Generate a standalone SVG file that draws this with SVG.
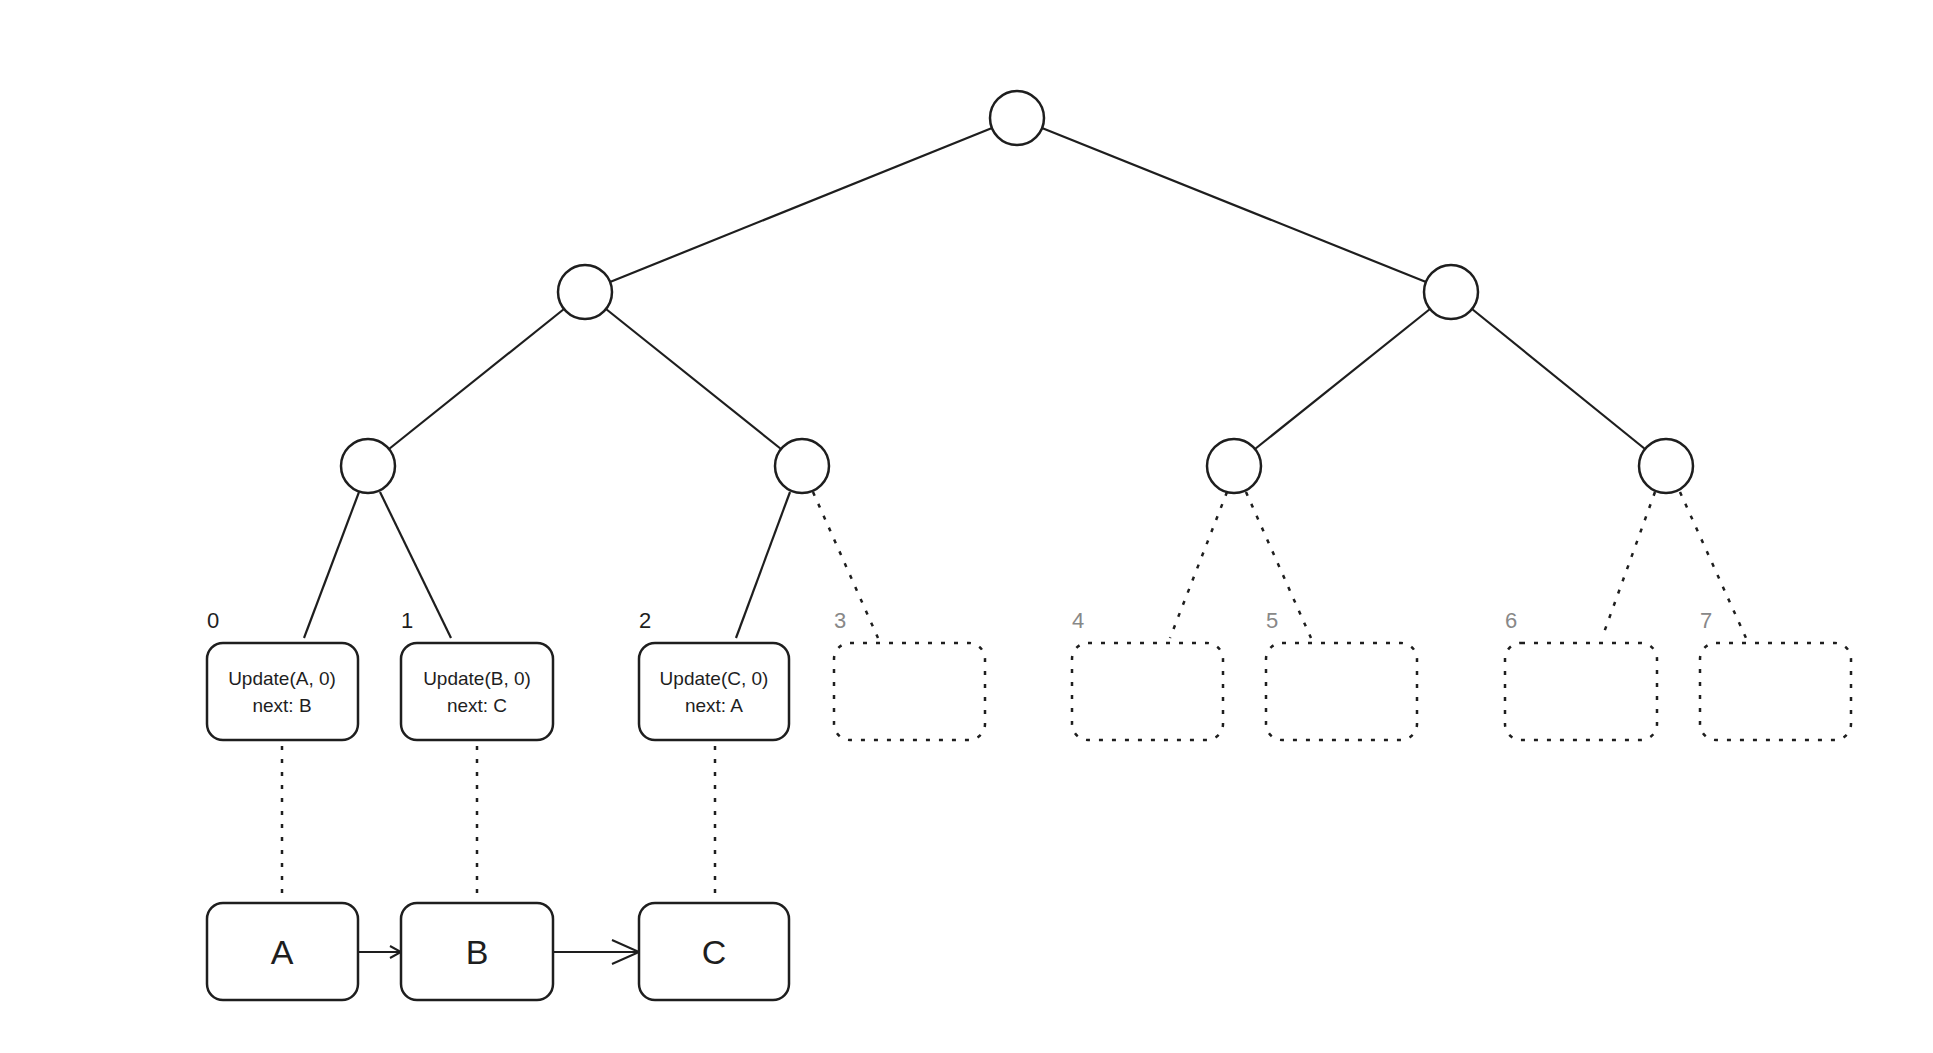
<svg xmlns="http://www.w3.org/2000/svg" width="1933" height="1053" viewBox="0 0 1933 1053">
<style>
.c{fill:#fff;stroke:#1e1e1e;stroke-width:2.5}
.b{fill:#fff;stroke:#1e1e1e;stroke-width:2.5}
.d{fill:none;stroke:#1e1e1e;stroke-width:2.5;stroke-dasharray:4 9}
.l{fill:none;stroke:#1e1e1e;stroke-width:2.2}
.t{font-family:"Liberation Sans","DejaVu Sans",sans-serif;fill:#1e1e1e}
.s{font-size:19px;text-anchor:middle}
.n{font-size:22px}
.g{fill:#888}
.big{font-size:34px;text-anchor:middle}
</style>
<defs>
<marker id="ar" markerWidth="14" markerHeight="14" refX="12" refY="7" orient="auto" markerUnits="userSpaceOnUse"><path d="M1 1 L12 7 L1 13" fill="none" stroke="#1e1e1e" stroke-width="2"/></marker>
<marker id="ar2" markerWidth="30" markerHeight="30" refX="28" refY="15" orient="auto" markerUnits="userSpaceOnUse"><path d="M1 3 L28 15 L1 27" fill="none" stroke="#1e1e1e" stroke-width="2"/></marker>
</defs>
<rect width="1933" height="1053" fill="#fff"/>
<g id="connectors">
<line class="l" x1="992" y1="128" x2="610" y2="282"/>
<line class="l" x1="1042" y1="128" x2="1426" y2="282"/>
<line class="l" x1="564" y1="309" x2="389" y2="449"/>
<line class="l" x1="606" y1="309" x2="781" y2="449"/>
<line class="l" x1="1430" y1="309" x2="1255" y2="449"/>
<line class="l" x1="1472" y1="309" x2="1645" y2="449"/>
<line class="l" x1="359" y1="492" x2="304" y2="638"/>
<line class="l" x1="380" y1="492" x2="451" y2="638"/>
<line class="l" x1="790" y1="492" x2="736" y2="638"/>
<line class="d" x1="813" y1="492" x2="878" y2="638"/>
<line class="d" x1="1227" y1="492" x2="1170" y2="638"/>
<line class="d" x1="1246" y1="492" x2="1311" y2="638"/>
<line class="d" x1="1655" y1="492" x2="1602" y2="638"/>
<line class="d" x1="1680" y1="492" x2="1746" y2="638"/>
<line class="d" x1="282" y1="746" x2="282" y2="900"/>
<line class="d" x1="477" y1="746" x2="477" y2="900"/>
<line class="d" x1="715" y1="746" x2="715" y2="900"/>
<line class="l" x1="358" y1="952" x2="401" y2="952" marker-end="url(#ar)"/>
<line class="l" x1="553" y1="952" x2="639" y2="952" marker-end="url(#ar2)"/>
</g>
<g id="tree">
<circle id="root" class="c" cx="1017" cy="118" r="27"/>
<circle id="n1" class="c" cx="585" cy="292" r="27"/>
<circle id="n2" class="c" cx="1451" cy="292" r="27"/>
<circle id="n3" class="c" cx="368" cy="466" r="27"/>
<circle id="n4" class="c" cx="802" cy="466" r="27"/>
<circle id="n5" class="c" cx="1234" cy="466" r="27"/>
<circle id="n6" class="c" cx="1666" cy="466" r="27"/>
</g>
<g id="leaf0"><text class="t n" x="207" y="628">0</text><rect class="b" x="207" y="643" width="151" height="97" rx="16"/><text class="t s" x="282" y="685">Update(A, 0)</text><text class="t s" x="282" y="712">next: B</text></g>
<g id="leaf1"><text class="t n" x="401" y="628">1</text><rect class="b" x="401" y="643" width="152" height="97" rx="16"/><text class="t s" x="477" y="685">Update(B, 0)</text><text class="t s" x="477" y="712">next: C</text></g>
<g id="leaf2"><text class="t n" x="639" y="628">2</text><rect class="b" x="639" y="643" width="150" height="97" rx="16"/><text class="t s" x="714" y="685">Update(C, 0)</text><text class="t s" x="714" y="712">next: A</text></g>
<g id="leaf3"><text class="t n g" x="834" y="628">3</text><rect class="d" x="834" y="643" width="151" height="97" rx="16"/></g>
<g id="leaf4"><text class="t n g" x="1072" y="628">4</text><rect class="d" x="1072" y="643" width="151" height="97" rx="16"/></g>
<g id="leaf5"><text class="t n g" x="1266" y="628">5</text><rect class="d" x="1266" y="643" width="151" height="97" rx="16"/></g>
<g id="leaf6"><text class="t n g" x="1505" y="628">6</text><rect class="d" x="1505" y="643" width="152" height="97" rx="16"/></g>
<g id="leaf7"><text class="t n g" x="1700" y="628">7</text><rect class="d" x="1700" y="643" width="151" height="97" rx="16"/></g>
<g id="A"><rect class="b" x="207" y="903" width="151" height="97" rx="16"/><text class="t big" x="282" y="964">A</text></g>
<g id="B"><rect class="b" x="401" y="903" width="152" height="97" rx="16"/><text class="t big" x="477" y="964">B</text></g>
<g id="C"><rect class="b" x="639" y="903" width="150" height="97" rx="16"/><text class="t big" x="714" y="964">C</text></g>
</svg>
